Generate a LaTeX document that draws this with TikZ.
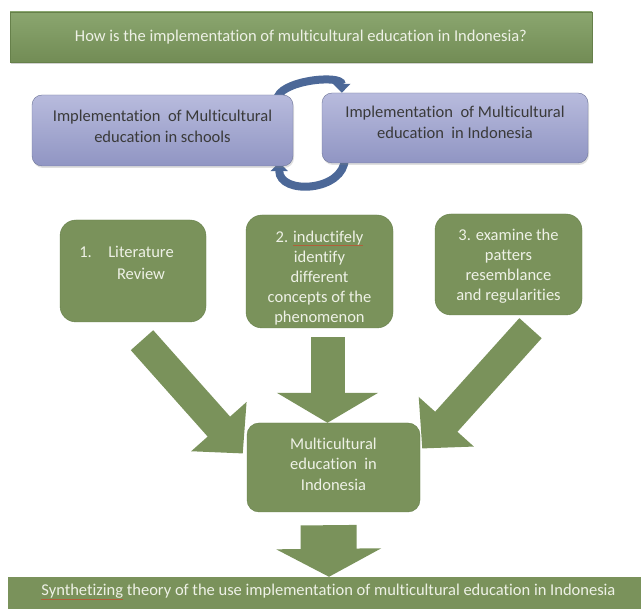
\documentclass[tikz,border=0pt]{standalone}
\usepackage{fontspec}
\setmainfont[Ligatures=NoCommon]{Carlito}
\usetikzlibrary{positioning, arrows.meta, shadows, backgrounds}
\definecolor{boxgreen}{HTML}{7A925B}
\definecolor{greenedge}{HTML}{66804A}
\definecolor{greentop}{HTML}{8BA66F}
\definecolor{greenbot}{HTML}{728C55}
\definecolor{bluetop}{HTML}{B8BBDD}
\definecolor{bluebot}{HTML}{9095C3}
\definecolor{blueedge}{HTML}{6E7699}
\definecolor{cycleblue}{HTML}{4C6898}
\definecolor{paletext}{HTML}{EEF1E6}
\definecolor{darktext}{HTML}{3A3A3A}
\definecolor{squiggle}{HTML}{B0603A}
\newsavebox{\wordbox}
\newcommand{\misspelt}[1]{\sbox{\wordbox}{#1}\rlap{\color{squiggle}\raisebox{-3.5pt}{\rule{\wd\wordbox}{0.8pt}}}#1}
\tikzset{
  question/.style={rectangle, draw=greenedge, top color=greentop, bottom color=greenbot,
    drop shadow={opacity=0.35, shadow xshift=1pt, shadow yshift=-2pt},
    text=paletext, font=\fontsize{16.5}{20}\selectfont},
  impl/.style={rectangle, rounded corners=10pt, draw=blueedge, top color=bluetop, bottom color=bluebot,
    drop shadow={opacity=0.25, shadow xshift=1pt, shadow yshift=-2pt}},
  impltext/.style={text=darktext, align=center, font=\fontsize{16.5}{21}\selectfont},
  phase/.style={rectangle, rounded corners=16pt, draw=greenedge, fill=boxgreen},
  phasetext/.style={text=paletext, align=center, font=\fontsize{16.5}{20}\selectfont},
  bigarrow/.style={draw=boxgreen, line width=30pt, -{Triangle[length=36pt, width=72pt]}},
  cyclearrow/.style={draw=cycleblue, line width=8pt, -{Triangle[length=9pt, width=17pt]}},
}
\begin{document}
\begin{tikzpicture}[x=1pt, y=-1pt]
    \useasboundingbox (0,0) rectangle (641,609);

    \node[question, minimum width=582pt, minimum height=50pt] (q) at (301,37)
        {How is the implementation of multicultural education in Indonesia?};

    \node[impl, minimum width=261pt, minimum height=71pt] (schools) at (162.5,130.5) {};
    \node[impltext] (schools-t) at ([shift={(0,-4)}]schools.center)
        {Implementation\ \ of Multicultural\\education in schools};
    \node[impl, minimum width=266pt, minimum height=70pt] (indo) at (455,128) {};
    \node[impltext] (indo-t) at ([shift={(0,-5.5)}]indo.center)
        {Implementation\ \ of Multicultural\\education\ \ in Indonesia};

    % the cycle between both boxes
    \begin{pgfonlayer}{background}
    \fill[white] (0,0) rectangle (641,609);
    \draw[cyclearrow] ([shift={(-16,5)}]schools.north east) to[out=90, in=90, looseness=0.75] ([shift={(20,0)}]indo.north west);
    \draw[cyclearrow] ([shift={(23,-5)}]indo.south west) to[out=-90, in=-90, looseness=1.3] ([shift={(-14,-4)}]schools.south east);
    \end{pgfonlayer}

    \node[phase, minimum width=146pt, minimum height=102pt] (lit) at (133,271) {};
    \node[phasetext] (lit-t) at ([shift={(-6.5,-6)}]lit.center)
        {1.\quad\begin{tabular}[t]{@{}c@{}}Literature\\[2pt]Review\end{tabular}};
    \node[phase, minimum width=147pt, minimum height=113pt] (induct) at (319.5,271.5) {};
    \node[phasetext] (induct-t) at ([shift={(0,6.5)}]induct.center)
        {2. \misspelt{inductifely}\\identify\\different\\concepts of the\\phenomenon};
    \node[phase, minimum width=147pt, minimum height=101pt] (exam) at (508.5,264.5) {};
    \node[phasetext] (exam-t) at ([shift={(0,1.5)}]exam.center)
        {3. examine the\\patters\\resemblance\\and regularities};

    \node[phase, rounded corners=12pt, minimum width=173pt, minimum height=89pt] (multi) at (333.5,467.5) {};
    \node[phasetext, font=\fontsize{16.5}{20.5}\selectfont] (multi-t) at ([shift={(0,-3.5)}]multi.center)
        {Multicultural\\education\ \ in\\Indonesia};

    \node[rectangle, fill=boxgreen, minimum width=650pt, minimum height=38pt, inner sep=0pt] (synth) at (333,596) {};
    \node[phasetext] (synth-t) at (328.5,592)
        {\misspelt{Synthetizing} theory of the use implementation of multicultural education in Indonesia};

    % block arrows into the result
    \draw[bigarrow] ([shift={(9,18)}]lit.south) -- ([shift={(-4,-14)}]multi.west);
    \draw[bigarrow, line width=34pt, -{Triangle[length=30pt, width=100pt]}] ([shift={(8,9)}]induct.south) -- ([shift={(-6,0)}]multi.north);
    \draw[bigarrow] ([shift={(22,13)}]exam.south) -- ([shift={(2,-19)}]multi.east);
    \draw[bigarrow, line width=56pt, -{Triangle[length=28pt, width=104pt]}] ([shift={(-5,13)}]multi.south) -- ([shift={(-4,0)}]synth.north);
\end{tikzpicture}
\end{document}
